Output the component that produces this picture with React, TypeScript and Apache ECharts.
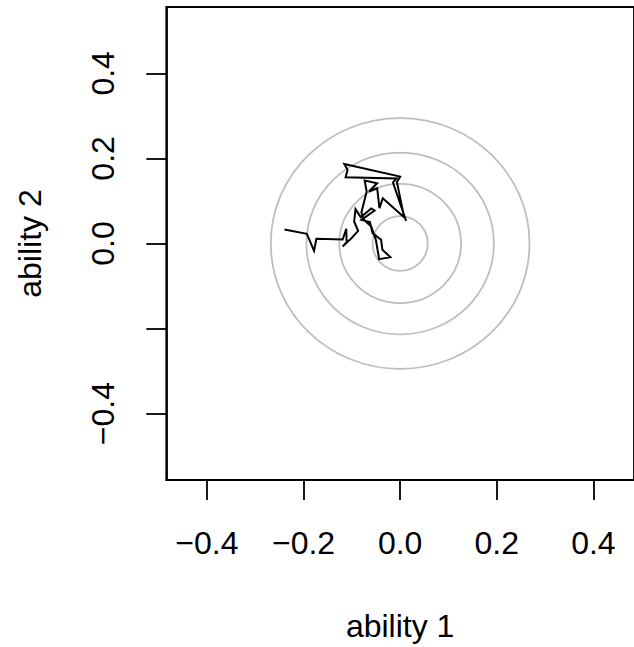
import React, { useEffect, useRef } from "react";
import * as echarts from "echarts";

// Ability estimate trajectory (ability 1, ability 2)
const pathX = [
  -0.2394, -0.1931, -0.1782, -0.1734, -0.119, -0.1115, -0.1108, -0.119, -0.1006, -0.087,
  -0.0952, -0.0924, -0.0816, -0.0598, -0.053, -0.0802, -0.0625, -0.0571, -0.0394, -0.0367,
  -0.0203, -0.0435, -0.0503, -0.0598, -0.0748, -0.0802, -0.0693, -0.0734, -0.0476, -0.0646,
  -0.0476, -0.0428, -0.036, 0.0082, -0.0067, 0.0001, -0.1156, -0.1088, -0.1129, -0.0081,
  -0.0149, 0.0123,
];
const pathY = [
  0.0329, 0.0228, -0.0171, 0.011, 0.0095, 0.0345, 0.0032, -0.007, 0.0126, 0.0298,
  0.0517, 0.0807, 0.0619, 0.0823, 0.0776, 0.0556, 0.0502, 0.0243, 0.0087, -0.0148,
  -0.032, -0.0367, 0.0087, 0.04, 0.0556, 0.0729, 0.1222, 0.148, 0.1417, 0.1222,
  0.13, 0.083, 0.1065, 0.0619, 0.1449, 0.1574, 0.1871, 0.173, 0.1558, 0.1527,
  0.1433, 0.0533,
];

// Concentric contour ellipses centred at the origin (radius along each axis)
const ringRadiusX = [0.0571, 0.126, 0.194, 0.2677];
const ringRadiusY = [0.0642, 0.14, 0.2137, 0.2947];

// Tick values and labels
const xTicks = [-0.4, -0.2, 0.0, 0.2, 0.4];
const xTickLabels = ["\u22120.4", "\u22120.2", "0.0", "0.2", "0.4"];
const yTicks = [-0.4, -0.2, 0.0, 0.2, 0.4];
const yTickLabels = ["\u22120.4", "", "0.0", "0.2", "0.4"];

const xTitle = "ability 1";
const yTitle = "ability 2";

const FONT = "'Liberation Sans', Arial, Helvetica, sans-serif";

function labelFor(ticks: number[], labels: string[], v: number): string {
  for (let i = 0; i < ticks.length; i++) {
    if (Math.abs(ticks[i] - v) < 1e-6) return labels[i];
  }
  return "";
}

export default function App() {
  const ref = useRef<HTMLDivElement>(null);

  useEffect(() => {
    if (!ref.current) return;
    const chart = echarts.init(ref.current, undefined, { renderer: "svg" });

    const pathData = pathX.map((x, i) => [x, pathY[i]]);
    const ringData = ringRadiusX.map((rx, i) => [rx, ringRadiusY[i]]);

    chart.setOption({
      animation: false,
      backgroundColor: "#ffffff",
      grid: {
        left: 166.3,
        top: 7,
        width: 474,
        height: 474,
        show: true,
        borderColor: "#000",
        borderWidth: 1.8,
        backgroundColor: "transparent",
      },
      xAxis: {
        type: "value",
        min: -0.484,
        max: 0.484,
        name: xTitle,
        nameLocation: "middle",
        nameGap: 130,
        nameTextStyle: { color: "#000", fontSize: 32, fontFamily: FONT },
        axisLine: { show: true, onZero: false, lineStyle: { color: "#000", width: 1.8 } },
        axisTick: {
          show: true,
          inside: false,
          length: 20,
          customValues: xTicks,
          lineStyle: { color: "#000", width: 1.8 },
        },
        axisLabel: {
          show: true,
          customValues: xTicks,
          margin: 47,
          color: "#000",
          fontSize: 32,
          fontFamily: FONT,
          formatter: (v: number) => labelFor(xTicks, xTickLabels, v),
        },
        splitLine: { show: false },
      },
      yAxis: {
        type: "value",
        min: -0.556,
        max: 0.556,
        name: yTitle,
        nameLocation: "middle",
        nameGap: 120,
        nameRotate: 90,
        nameTextStyle: { color: "#000", fontSize: 32, fontFamily: FONT },
        axisLine: { show: true, onZero: false, lineStyle: { color: "#000", width: 1.8 } },
        axisTick: {
          show: true,
          inside: false,
          length: 20,
          customValues: yTicks,
          lineStyle: { color: "#000", width: 1.8 },
        },
        axisLabel: {
          show: true,
          customValues: yTicks,
          rotate: 90,
          margin: 47,
          color: "#000",
          fontSize: 32,
          fontFamily: FONT,
          formatter: (v: number) => labelFor(yTicks, yTickLabels, v),
        },
        splitLine: { show: false },
      },
      series: [
        {
          type: "custom",
          name: "contours",
          coordinateSystem: "cartesian2d",
          data: ringData,
          z: 1,
          silent: true,
          renderItem: (params: any, api: any) => {
            const rx = api.value(0);
            const ry = api.value(1);
            const c = api.coord([0, 0]);
            const s = api.size([rx, ry]);
            return {
              type: "ellipse",
              shape: { cx: c[0], cy: c[1], rx: s[0], ry: s[1] },
              style: { fill: "none", stroke: "#bebebe", lineWidth: 1.8 },
            };
          },
        },
        {
          type: "line",
          name: "trajectory",
          data: pathData,
          z: 3,
          showSymbol: false,
          symbol: "none",
          silent: true,
          lineStyle: { color: "#000", width: 2, join: "miter" },
        },
      ],
    });

    return () => {
      chart.dispose();
    };
  }, []);

  return (
    <div
      ref={ref}
      style={{ position: "absolute", left: 0, top: 0, width: 634, height: 647 }}
    />
  );
}
